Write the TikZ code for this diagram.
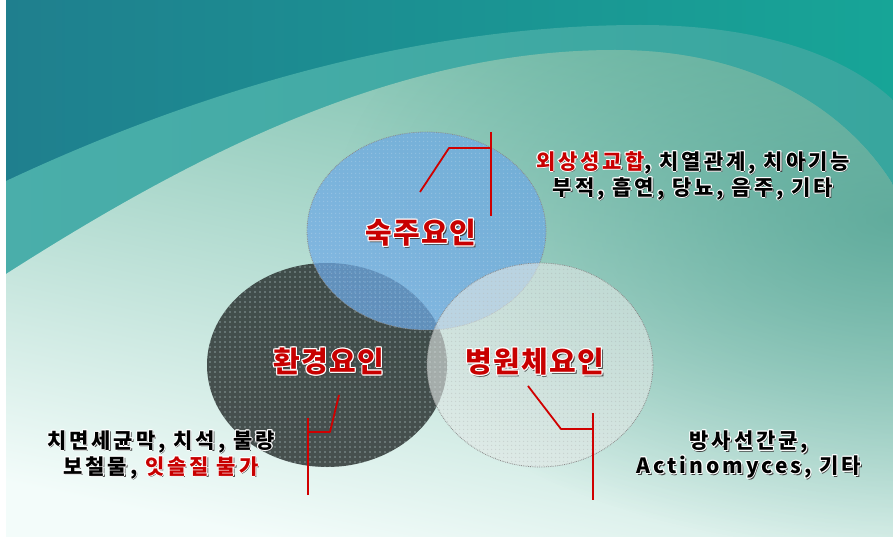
\documentclass[tikz,border=0pt]{standalone}
\usepackage{fontspec}
\newfontfamily\kr{Noto Sans CJK KR}
\usetikzlibrary{patterns.meta,fadings}
\definecolor{labelred}{HTML}{C80000}
\definecolor{leadred}{HTML}{D00000}
\definecolor{tealL}{HTML}{1F7F8E}
\definecolor{tealR}{HTML}{17A597}
\definecolor{bandL}{HTML}{4AAEAA}
\definecolor{bandR}{HTML}{38A69E}
\definecolor{lightT}{HTML}{7ABFAC}
\definecolor{lightM}{HTML}{A2D8C9}
\definecolor{lightB}{HTML}{F3FCFA}
\definecolor{rightTint}{HTML}{4C9F90}
\definecolor{hostblue}{HTML}{6EA9E4}
\definecolor{envdark}{HTML}{262D2C}
\definecolor{pathgray}{HTML}{E2E8E6}
\tikzfading[name=glow, inner color=transparent!0, outer color=transparent!100]
\newcommand\rcol{labelred}
\newcommand\R[1]{{\color{\rcol}#1}}
\newcommand\hshift[3]{\rlap{\kern#1\raisebox{#2}{#3}}}
\newcommand\halo[1]{\leavevmode
  \hshift{1.3pt}{-1.6pt}{\def\rcol{black!75}\color{black!75}#1}%
  \hshift{0.9pt}{0pt}{\def\rcol{white}\color{white}#1}%
  \hshift{-0.9pt}{0pt}{\def\rcol{white}\color{white}#1}%
  \hshift{0pt}{0.9pt}{\def\rcol{white}\color{white}#1}%
  \hshift{0pt}{-0.9pt}{\def\rcol{white}\color{white}#1}%
  \hshift{0.65pt}{0.65pt}{\def\rcol{white}\color{white}#1}%
  \hshift{-0.65pt}{0.65pt}{\def\rcol{white}\color{white}#1}%
  \hshift{0.65pt}{-0.65pt}{\def\rcol{white}\color{white}#1}%
  \hshift{-0.65pt}{-0.65pt}{\def\rcol{white}\color{white}#1}%
  {\color{black}#1}}
\tikzset{
  lbl/.style={inner sep=0pt, font=\kr\bfseries\fontsize{29}{32}\selectfont\addfontfeature{LetterSpace=5}},
  note/.style={inner sep=0pt, align=center, font=\kr\bfseries\fontsize{21}{25}\selectfont\addfontfeature{LetterSpace=14}},
  leader/.style={draw=leadred, line width=2.2pt},
  leadthin/.style={draw=leadred, line width=1.8pt, line join=round},
  halftone/.style={densely dotted, line width=0.8pt}
}
\begin{document}
\begin{tikzpicture}[x=1pt,y=-1pt]
\useasboundingbox (0,0) rectangle (893,537);
\fill[white] (0,0) rectangle (893,537);
% background layers
\shade[left color=tealL, right color=tealR] (6,1) rectangle (893,537);
\shade[left color=bandL, right color=bandR]
  (6,181) .. controls (200,90) and (420,25) .. (640,25)
  .. controls (770,25) and (850,60) .. (893,100) -- (893,537) -- (6,537) -- cycle;
\def\lightpath{(6,274) .. controls (200,150) and (400,50) .. (615,50)
  .. controls (760,50) and (850,115) .. (893,185) -- (893,537) -- (6,537) -- cycle}
\shade[shading=axis, top color=lightT, middle color=lightM, bottom color=lightB, shading angle=-12]
  \lightpath;
\begin{scope}
  \clip \lightpath;
  \fill[rightTint, opacity=0.7, path fading=glow] (893,220) ellipse [x radius=560, y radius=330];
\end{scope}
% ellipses
\fill[envdark, opacity=0.82] (327,365) ellipse [x radius=120, y radius=102];
\fill[pattern={Dots[distance=5pt, radius=1.1pt]}, pattern color=white!80!teal, opacity=0.35] (327,365) ellipse [x radius=120, y radius=102];
\fill[hostblue, opacity=0.74] (426.5,231) ellipse [x radius=119.5, y radius=99];
\fill[pattern={Dots[distance=4pt, radius=0.9pt]}, pattern color=white, opacity=0.18] (426.5,231) ellipse [x radius=119.5, y radius=99];
\draw[black!45, halftone] (426.5,231) ellipse [x radius=119.5, y radius=99];
\fill[pathgray, opacity=0.62] (540,365) ellipse [x radius=113, y radius=102];
\fill[pattern={Dots[distance=4pt, radius=0.9pt]}, pattern color=black!40, opacity=0.25] (540,365) ellipse [x radius=113, y radius=102];
\draw[black!45, halftone] (540,365) ellipse [x radius=113, y radius=102];
% labels
\node[lbl] (host) at (421,233) {\halo{\R{숙주요인}}};
\node[lbl] (env) at (329,362) {\halo{\R{환경요인}}};
\node[lbl] (pathogen) at (535,362) {\halo{\R{병원체요인}}};
\node[note] (hostnote) at (693,176) {\halo{\R{외상성교합}, 치열관계, 치아기능}\\\halo{부적, 흡연, 당뇨, 음주, 기타}};
\node[note] (envnote) at (161,455) {\halo{치면세균막, 치석, 불량}\\\halo{보철물, \R{잇솔질 불가}}};
\node[note] (pathnote) at (749,455) {\halo{방사선간균,}\\\halo{Actinomyces, 기타}};
% leader lines
\coordinate (hTop) at (491,132);
\coordinate (hBot) at (491,216);
\coordinate (hJoin) at (491,148);
\coordinate (hKnee) at (449,148);
\coordinate (hEnd) at (420,192);
\draw[leader] (hTop) -- (hBot);
\draw[leadthin] (hEnd) -- (hKnee) -- (hJoin);
\coordinate (eTop) at (308,418);
\coordinate (eBot) at (308,495);
\coordinate (eJoin) at (308,432);
\coordinate (eKnee) at (330,432);
\coordinate (eEnd) at (339,395);
\draw[leader] (eTop) -- (eBot);
\draw[leadthin] (eEnd) -- (eKnee) -- (eJoin);
\coordinate (pTop) at (593,413);
\coordinate (pBot) at (593,500);
\coordinate (pJoin) at (593,429);
\coordinate (pKnee) at (561,429);
\coordinate (pEnd) at (528,386);
\draw[leader] (pTop) -- (pBot);
\draw[leadthin] (pEnd) -- (pKnee) -- (pJoin);
\end{tikzpicture}
\end{document}
